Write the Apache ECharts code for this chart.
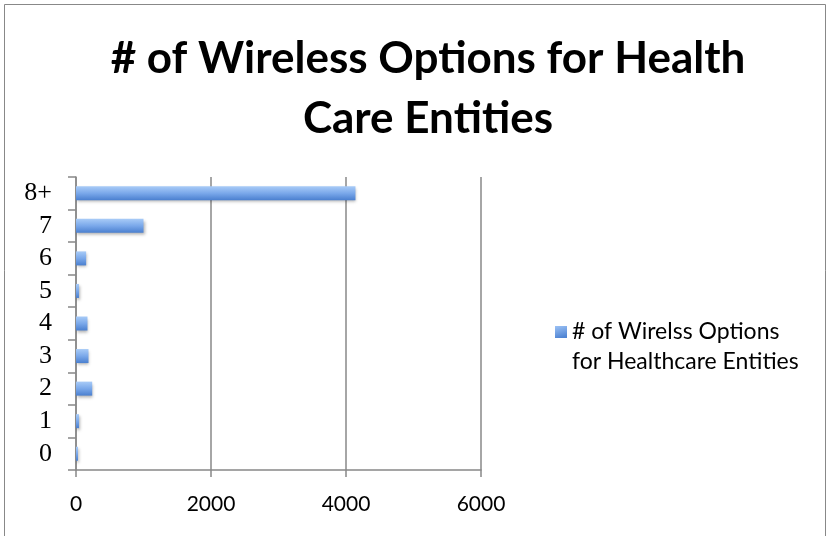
<!DOCTYPE html>
<html><head><meta charset="utf-8">
<script src="https://cdn.jsdelivr.net/npm/echarts@6/dist/echarts.min.js"></script>
<style>html,body{margin:0;padding:0;background:#fff}#c{width:828px;height:536px}</style>
</head><body><div id="c"></div>
<script>
const categories = ['0','1','2','3','4','5','6','7','8+'];
const values = [30, 45, 240, 185, 170, 45, 150, 1000, 4140];
const xTicks = [0, 2000, 4000, 6000];
const seriesName = '# of Wirelss Options for Healthcare Entities';
const titleText = '# of Wireless Options for Health\nCare Entities';

const chart = echarts.init(document.getElementById('c'));
chart.setOption({
  animation: false,
  backgroundColor: '#fff',
  graphic: [{type:'rect', shape:{x:4.5,y:4.5,width:821,height:540}, style:{fill:'none', stroke:'#888', lineWidth:1}, z:-1}],
  title: {
    text: titleText, left: 423, top: 24, textAlign: 'center',
    textStyle: {fontFamily: 'Lato', fontWeight: 'bold', fontSize: 44, lineHeight: 60, color: '#000'}
  },
  legend: {
    left: 550, top: 312, itemWidth: 12, itemHeight: 42, itemGap: 6,
    icon: 'path://M0,0h12v12h-12zM0,42h0.01v0.01z',
    itemStyle: {color: new echarts.graphic.LinearGradient(0,0,1,1,[{offset:0,color:'#9cc2f5'},{offset:0.3,color:'#4f84d3'},{offset:1,color:'#4f84d3'}])},
    formatter: () => '# of Wirelss Options\nfor Healthcare Entities',
    textStyle: {fontFamily: 'Lato', fontSize: 23, lineHeight: 30, color: '#000'}
  },
  grid: {left: 76, right: 347, top: 177, bottom: 66, containLabel: false},
  xAxis: {
    type: 'value', min: 0, max: 6000, interval: 2000,
    axisLine: {show: true, lineStyle: {color: '#888', width: 1.5}},
    axisTick: {show: true, length: 7, lineStyle: {color: '#888', width: 1.5}},
    splitLine: {show: true, lineStyle: {color: '#888', width: 1.5}},
    axisLabel: {fontFamily: 'Lato', fontSize: 21, color: '#000', margin: 24, formatter: v => String(v)}
  },
  yAxis: {
    type: 'category', data: categories,
    axisLine: {show: true, lineStyle: {color: '#888', width: 1.5}},
    axisTick: {show: true, length: 8, lineStyle: {color: '#888', width: 1.5}},
    axisLabel: {interval: 0, fontFamily: 'Liberation Serif', fontSize: 26, color: '#000', margin: 24}
  },
  series: [{
    name: seriesName, type: 'bar', data: values, barWidth: 14,
    itemStyle: {
      color: new echarts.graphic.LinearGradient(0,0,0,1,[{offset:0,color:'#a8cbf7'},{offset:0.5,color:'#7aa8ea'},{offset:1,color:'#4a7fcf'}]),
      shadowColor: 'rgba(0,0,0,0.3)', shadowBlur: 3, shadowOffsetX: 1, shadowOffsetY: 2
    }
  }]
});
</script></body></html>
